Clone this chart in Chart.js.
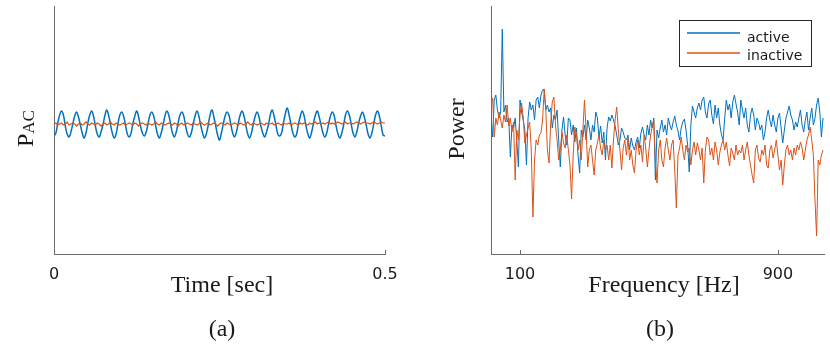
<!DOCTYPE html>
<html><head><meta charset="utf-8">
<script src="https://cdn.jsdelivr.net/npm/chart.js@4.4.1/dist/chart.umd.min.js"></script>
<style>
html,body{margin:0;padding:0;background:#fff;}
#wrap{position:relative;width:830px;height:358px;overflow:hidden;}
canvas{position:absolute;top:0;}
#cA{left:0;} #cB{left:415px;}
</style></head><body>
<div id="wrap"><canvas id="cA" width="415" height="358"></canvas><canvas id="cB" width="415" height="358"></canvas></div>
<script>
// ---------- data ----------
const seriesNames = ['active', 'inactive'];

// (a) P_AC time series, sampled every timeStep seconds from t = 0
const timeStep = 0.5 / 176;
const timeTicks = [0, 0.5];
const pacActive = [
118,121,131,139,143,139,128,120, 117,122,130,138,142,137,129,121,
116,121,131,139,143,138,128,120, 117,122,129,138,144,139,130,121,
116,120,130,139,142,138,129,120, 117,121,131,138,143,137,128,121,
118,122,130,139,142,138,129,120, 116,121,129,138,143,139,130,121,
117,122,131,139,142,138,128,120, 117,121,130,138,143,138,129,121,
116,120,129,139,144,137,128,119, 114,121,130,138,142,139,130,121,
117,122,131,139,143,138,129,120, 116,121,130,138,142,137,128,121,
117,122,129,139,144,138,129,120, 118,121,131,140,146,139,130,121,
117,120,130,138,143,138,128,120, 116,122,131,139,143,137,129,121,
117,121,130,138,142,138,128,120, 116,121,129,139,143,139,130,121,
117,122,131,138,142,137,129,120, 116,121,130,139,143,138,128,119,
118
];
const pacInactive = [
130,131,129,130,131,129,130,132,129,130,131,130,128,130,131,129,
130,132,130,129,131,130,129,131,130,128,130,131,129,130,132,130,
129,131,130,129,130,131,129,130,131,130,129,131,130,128,130,131,
130,129,131,130,129,130,132,130,129,131,130,129,130,131,130,129,
131,130,128,130,131,129,130,131,130,129,131,130,129,130,132,130,
129,130,131,129,130,131,130,128,130,131,130,129,131,130,129,130,
131,130,129,131,130,129,130,132,130,129,131,130,129,130,131,130,
129,131,130,130,131,129,130,131,130,129,131,130,130,131,129,130,
131,130,129,131,130,131,130,129,131,130,131,132,130,131,130,131,
130,131,132,130,131,130,131,132,131,130,131,132,130,131,131,130,
131,132,131,130,131,132,131,131,130,131,132,131,130,131,132,131,
131
];

// (b) power spectra, one value every freqStep Hz from freqStart
const freqStart = 10;
const freqStep = 5;
const freqMax = 1043;
const freqTicks = [100, 900];
const powerActive = [
137,117,154,159,144,136,142,225,142,149,132,136,97,129,126,136,114,87,154,142,
134,124,89,136,152,144,149,134,154,157,146,159,164,165,144,149,142,146,126,139,
134,144,114,87,124,137,119,109,136,134,119,129,112,126,99,81,124,117,129,114,
134,126,114,129,122,142,136,116,128,111,122,94,126,137,133,139,134,128,119,109,
114,126,122,116,114,119,104,116,108,104,112,117,106,121,127,119,114,129,119,134,
126,136,74,124,116,126,134,122,129,119,136,129,124,132,138,129,123,114,126,132,
135,124,109,82,129,148,142,136,146,151,144,154,157,142,136,150,154,139,130,149,
136,146,129,119,114,136,154,144,150,136,152,159,150,142,129,154,144,136,146,129,
122,139,146,139,124,136,132,124,129,114,122,136,144,134,127,139,129,122,136,141,
126,111,124,136,142,148,139,134,124,132,127,136,144,129,122,134,142,124,136,146,
129,136,149,156,142,117,136
];
const powerInactive = [
149,156,117,136,129,142,134,126,139,132,149,128,136,122,132,74,124,114,139,151,
136,111,119,126,132,104,37,94,114,109,119,121,134,164,144,104,91,129,152,157,
129,114,94,104,122,111,106,119,104,89,55,99,127,119,104,114,94,124,154,124,
87,104,109,94,79,104,111,119,106,99,114,104,109,94,109,86,114,134,147,124,
104,84,106,114,99,116,94,104,89,81,104,114,99,109,92,119,106,87,104,119,
127,134,94,71,104,114,94,87,106,116,104,94,109,114,84,46,99,106,117,104,
94,109,102,106,89,104,112,99,111,104,94,106,71,104,117,114,99,106,94,112,
104,89,102,109,114,104,112,99,88,106,101,94,109,99,104,101,109,94,104,112,
99,89,79,71,104,109,96,92,104,99,109,89,86,104,109,96,104,114,99,84,
94,69,89,104,109,99,104,94,106,99,109,104,112,106,94,104,114,119,127,114,
99,54,18,94,89,99,104
];

// ---------- styling ----------
const BLUE = '#0072BD', ORANGE = '#D95319', AXIS = '#6b6b6b', TXT = '#1a1a1a';
const SERIF = '"Liberation Serif","Times New Roman",serif';
const SANS = '"DejaVu Sans",sans-serif';

function toPoints(vals, x0, dx) { return vals.map((v, i) => ({ x: x0 + i * dx, y: v })); }

function makeOptions(xmin, xmax, ticksArr, yAxisWidth, padRight) {
  return {
    responsive: false, animation: false, devicePixelRatio: 1,
    layout: { padding: { left: 0, right: padRight, top: 6, bottom: 0 } },
    plugins: { legend: { display: false }, tooltip: { enabled: false } },
    elements: { point: { radius: 0 } },
    scales: {
      x: {
        type: 'linear', min: xmin, max: xmax,
        grid: { display: false },
        border: { display: true, color: AXIS, width: 1 },
        ticks: { font: { family: SANS, size: 16 }, color: TXT, padding: 3, maxRotation: 0, autoSkip: false },
        afterBuildTicks: s => { s.ticks = ticksArr.map(v => ({ value: v })); },
        afterFit: s => { s.height = 104; }
      },
      y: {
        type: 'linear', min: 0, max: 248,
        grid: { display: false },
        border: { display: true, color: AXIS, width: 1 },
        ticks: { display: false },
        afterFit: s => { s.width = yAxisWidth; }
      }
    }
  };
}

function decor(o) {
  return {
    id: 'decor',
    afterDraw(chart) {
      const ctx = chart.ctx, xs = chart.scales.x, area = chart.chartArea;
      ctx.save();
      ctx.strokeStyle = AXIS; ctx.lineWidth = 1;
      xs.ticks.forEach(t => {
        const px = Math.round(xs.getPixelForValue(t.value)) + 0.5;
        ctx.beginPath(); ctx.moveTo(px, area.bottom); ctx.lineTo(px, area.bottom - 4); ctx.stroke();
      });
      ctx.fillStyle = TXT;
      ctx.font = '24px ' + SERIF; ctx.textAlign = 'center'; ctx.textBaseline = 'alphabetic';
      ctx.fillText(o.xTitle, o.xTitleX, 292);
      ctx.fillText(o.caption, o.captionX, 336);
      o.drawY(ctx);
      if (o.legend) o.legend(ctx, chart);
      ctx.restore();
    }
  };
}

// ---------- chart (a) ----------
new Chart(document.getElementById('cA'), {
  type: 'line',
  data: {
    datasets: [
      { label: seriesNames[0], data: toPoints(pacActive, 0, timeStep), borderColor: BLUE, borderWidth: 1.5, tension: 0.4, order: 1 },
      { label: seriesNames[1], data: toPoints(pacInactive, 0, timeStep), borderColor: ORANGE, borderWidth: 1.2, tension: 0, order: 0 }
    ]
  },
  options: makeOptions(0, 0.5, timeTicks, 54, 30),
  plugins: [decor({
    xTitle: 'Time [sec]', xTitleX: 222, caption: '(a)', captionX: 222,
    drawY(ctx) {
      ctx.save();
      ctx.translate(33, 147); ctx.rotate(-Math.PI / 2);
      ctx.textAlign = 'left';
      ctx.font = '24px ' + SERIF; ctx.fillText('P', 0, 0);
      const w = ctx.measureText('P').width;
      ctx.font = '17px ' + SERIF; ctx.fillText('AC', w, 1);
      ctx.restore();
    }
  })]
});

// ---------- chart (b) ----------
new Chart(document.getElementById('cB'), {
  type: 'line',
  data: {
    datasets: [
      { label: seriesNames[0], data: toPoints(powerActive, freqStart, freqStep), borderColor: BLUE, borderWidth: 1, tension: 0, order: 1 },
      { label: seriesNames[1], data: toPoints(powerInactive, freqStart, freqStep), borderColor: ORANGE, borderWidth: 1, tension: 0, order: 0 }
    ]
  },
  options: makeOptions(freqStart, freqMax, freqTicks, 76, 6),
  plugins: [decor({
    xTitle: 'Frequency [Hz]', xTitleX: 249, caption: '(b)', captionX: 245,
    drawY(ctx) {
      ctx.save();
      ctx.translate(48.5, 129); ctx.rotate(-Math.PI / 2);
      ctx.textAlign = 'center';
      ctx.fillText('Power', 0, 0);
      ctx.restore();
    },
    legend(ctx, chart) {
      ctx.strokeStyle = '#262626'; ctx.lineWidth = 1;
      ctx.strokeRect(264.5, 20.5, 132, 46);
      ctx.font = '14px ' + SANS; ctx.textAlign = 'left'; ctx.fillStyle = TXT;
      const ys = [33, 53], bases = [42, 60];
      chart.data.datasets.forEach((d, i) => {
        ctx.strokeStyle = d.borderColor; ctx.lineWidth = 1.5;
        ctx.beginPath(); ctx.moveTo(272, ys[i]); ctx.lineTo(325, ys[i]); ctx.stroke();
        ctx.fillText(d.label, 332, bases[i]);
      });
    }
  })]
});
</script>
</body></html>
